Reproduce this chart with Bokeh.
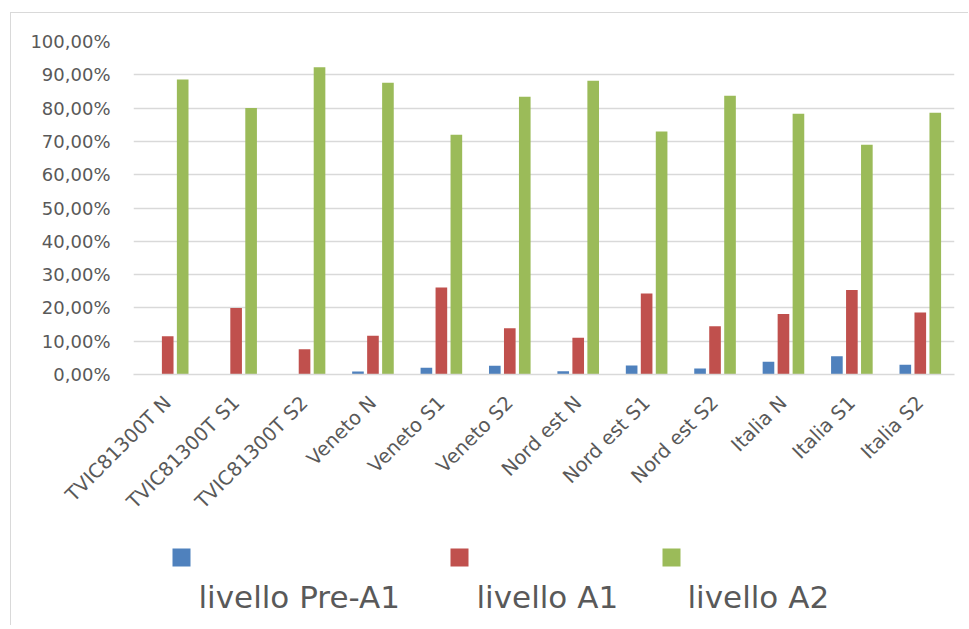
import math
from bokeh.plotting import figure
from bokeh.layouts import column
from bokeh.models import (ColumnDataSource, FactorRange, Range1d, FixedTicker,
                          CustomJSTickFormatter)
from bokeh.transform import dodge
from bokeh.core.properties import value
from bokeh.embed import file_html
from bokeh.resources import INLINE

categories = ["TVIC81300T N", "TVIC81300T S1", "TVIC81300T S2", "Veneto N", "Veneto S1",
              "Veneto S2", "Nord est N", "Nord est S1", "Nord est S2", "Italia N",
              "Italia S1", "Italia S2"]
pre_a1 = [0.0, 0.0, 0.0, 0.9, 2.0, 2.6, 1.0, 2.7, 1.8, 3.8, 5.5, 2.9]
a1 = [11.5, 20.0, 7.6, 11.6, 26.1, 13.9, 11.0, 24.3, 14.5, 18.2, 25.4, 18.6]
a2 = [88.6, 80.0, 92.3, 87.6, 72.0, 83.4, 88.2, 73.0, 83.7, 78.3, 69.0, 78.6]
y_ticks = [0, 10, 20, 30, 40, 50, 60, 70, 80, 90, 100]

series_names = ["livello Pre-A1", "livello A1", "livello A2"]
colors = ["#4f81bd", "#c0504d", "#9bbb59"]

FONT = "DejaVu Sans"
GRAY = "#595959"
GRID = "#d9d9d9"

BL, BR = 122, 14   # left / right borders shared by both stacked figures

src = ColumnDataSource(dict(cat=categories, pre=pre_a1, a1=a1, a2=a2))

p = figure(width=957, height=517, x_range=FactorRange(*categories, range_padding=0),
           y_range=Range1d(0, 100), output_backend="svg", toolbar_location=None,
           min_border_left=BL, min_border_right=BR, min_border_top=28,
           min_border_bottom=156)
p.outline_line_color = None
p.background_fill_color = "white"
p.border_fill_color = "white"

off = 0.219
bw = 0.17
for field, shift, col in zip(["pre", "a1", "a2"], [-off, 0, off], colors):
    p.vbar(x=dodge("cat", shift, range=p.x_range), top=field, width=bw, source=src,
           fill_color=col, line_color=None)

p.yaxis.ticker = FixedTicker(ticks=y_ticks)
p.yaxis.formatter = CustomJSTickFormatter(
    code="return tick.toFixed(2).replace('.', ',') + '%';")
p.yaxis.axis_line_color = None
p.yaxis.major_tick_line_color = None
p.yaxis.minor_tick_line_color = None
p.yaxis.major_label_standoff = 17
p.yaxis.major_label_text_font = FONT
p.yaxis.major_label_text_font_size = "18px"
p.yaxis.major_label_text_color = GRAY

p.xaxis.axis_line_color = GRID
p.xaxis.axis_line_width = 1.3
p.xaxis.major_tick_line_color = None
p.xaxis.minor_tick_line_color = None
p.xaxis.major_label_orientation = math.pi / 4
p.xaxis.major_label_standoff = 19
p.xaxis.major_label_text_font = FONT
p.xaxis.major_label_text_font_size = "19.5px"
p.xaxis.major_label_text_color = GRAY

p.xgrid.grid_line_color = None
p.ygrid.grid_line_color = GRID
p.ygrid.grid_line_width = 1.3

# legend panel (Excel-style: swatch above label); x in page pixels across the shared frame
leg_h = 95
leg = figure(width=957, height=leg_h, x_range=Range1d(133, 954), y_range=Range1d(0, leg_h),
             output_backend="svg", toolbar_location=None, min_border_left=BL,
             min_border_right=BR, min_border_top=0, min_border_bottom=0)
leg.axis.visible = False
leg.grid.visible = False
leg.outline_line_color = None
leg_swatch_x = [181, 459, 671]
leg_text_x = [198, 476, 687]
lsrc = ColumnDataSource(dict(sx=leg_swatch_x, tx=leg_text_x, name=series_names, color=colors))
leg.rect(x="sx", y=68, width=18, height=18, fill_color="color", line_color=None, source=lsrc)
leg.text(x="tx", y=29, text="name", text_font=value(FONT), text_font_size="31px",
         text_color=GRAY, text_baseline="alphabetic", text_align="left", source=lsrc)

layout = column(p, leg, spacing=0, styles={
    "margin-left": "10px", "margin-top": "12px",
    "border-left": "1px solid #d9d9d9", "border-top": "1px solid #d9d9d9"})

open("out.html", "w").write(file_html(layout, INLINE))
